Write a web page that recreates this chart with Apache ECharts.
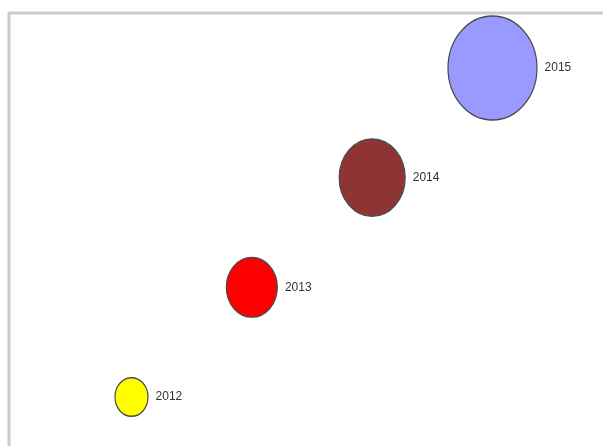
<!DOCTYPE html>
<html>
<head>
<meta charset="utf-8">
<script src="https://cdn.jsdelivr.net/npm/echarts@6/dist/echarts.min.js"></script>
<style>
  html, body { margin: 0; padding: 0; background: #fff; }
  #main { width: 603px; height: 446px; }
</style>
</head>
<body>
<div id="main"></div>
<script>
// data
var years = ["2012", "2013", "2014", "2015"];
var levels = [1, 2, 3, 4];
var bubbleSize = [33, 51, 66, 89];
var colors = ["#ffff00", "#ff0000", "#8f3434", "#9999ff"];

var points = years.map(function (y, i) {
  return {
    value: [Number(y), levels[i], bubbleSize[i]],
    name: y,
    itemStyle: { color: colors[i] }
  };
});

var myChart = echarts.init(document.getElementById("main"));
var option = {
  animation: false,
  grid: { left: 131.5, right: 110.5, top: 68, bottom: 49 },
  xAxis: { type: "value", min: 2012, max: 2015, show: false },
  yAxis: { type: "value", min: 1, max: 4, show: false },
  graphic: [
    {
      type: "polyline",
      shape: { points: [[9, 446], [9, 13], [603, 13]] },
      style: { stroke: "#cbcbcb", lineWidth: 3, fill: null }
    }
  ],
  series: [
    {
      type: "scatter",
      data: points,
      symbol: "circle",
      symbolSize: function (val) {
        return [val[2], val[2] * 1.17];
      },
      itemStyle: { borderColor: "#4a4a4a", borderWidth: 1.3, opacity: 1 },
      label: {
        show: true,
        position: "right",
        distance: 7,
        formatter: "{b}",
        color: "#333",
        fontSize: 12,
        fontFamily: "Liberation Sans, Arial, sans-serif"
      }
    }
  ]
};
myChart.setOption(option);
</script>
</body>
</html>
